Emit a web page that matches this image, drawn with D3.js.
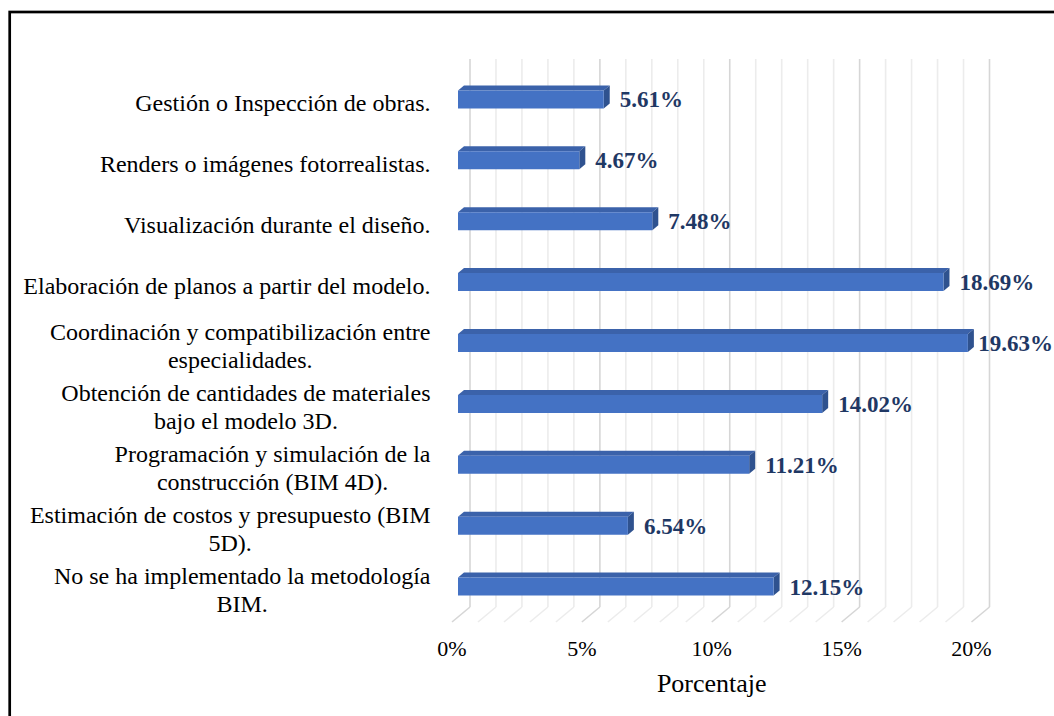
<!DOCTYPE html>
<html>
<head>
<meta charset="utf-8">
<script src="https://cdn.jsdelivr.net/npm/d3@7"></script>
</head>
<body style="margin:0">
<svg id="chart" width="1054" height="716"></svg>
<script>
// Uses of BIM in projects, share of respondents (%)
const categories = [
  "Gestión o Inspección de obras.",
  "Renders o imágenes fotorrealistas.",
  "Visualización durante el diseño.",
  "Elaboración de planos a partir del modelo.",
  "Coordinación y compatibilización entre\nespecialidades.",
  "Obtención de cantidades de materiales\nbajo el modelo 3D.",
  "Programación y simulación de la\nconstrucción (BIM 4D).",
  "Estimación de costos y presupuesto (BIM\n5D).",
  "No se ha implementado la metodología\nBIM."
];
const values = [5.61, 4.67, 7.48, 18.69, 19.63, 14.02, 11.21, 6.54, 12.15];
const tickValues = [0, 5, 10, 15, 20];
const tickLabels = ["0%", "5%", "10%", "15%", "20%"];
const gridValues = d3.range(0, 21, 1);
const axisTitle = "Porcentaje";

const FONT = "'Liberation Serif', 'Times New Roman', monospace";

const svg = d3.select("#chart");
const W = 1054, H = 716;

// outer frame
svg.append("rect")
  .attr("x", 9.7).attr("y", 12)
  .attr("width", W + 40).attr("height", H + 40)
  .attr("fill", "#fff").attr("stroke", "#000").attr("stroke-width", 2.7);

// front plane of the 3D plot box; depth offset goes up and to the right
const plot = { left: 452, right: 971.5, top: 74, bottom: 622 };
const depth = { dx: 18, dy: -15 };

const x = d3.scaleLinear().domain([0, 20]).range([plot.left, plot.right]);
const y = d3.scaleBand().domain(categories).range([plot.top, plot.bottom]);

const P = (v, yy, t) => [x(v) + depth.dx * t, yy + depth.dy * t];

// back wall and floor gridlines
const grid = svg.append("g");
gridValues.forEach(g => {
  const major = g % 5 === 0;
  const col = major ? "#d6d6d6" : "#ececec";
  const [bx, by] = P(g, plot.bottom, 1);
  const [, ty] = P(g, plot.top, 1);
  grid.append("line")
    .attr("x1", bx).attr("x2", bx).attr("y1", ty).attr("y2", by)
    .attr("stroke", col).attr("stroke-width", 1.6);
  grid.append("line")
    .attr("x1", bx).attr("y1", by).attr("x2", x(g)).attr("y2", plot.bottom)
    .attr("stroke", col).attr("stroke-width", 1.6);
});

// 3D bars: front face, top face and right side
const t0 = 1 / 3, t1 = 2 / 3;
const faceH = 18;
const bars = svg.append("g");
categories.forEach((c, i) => {
  const v = values[i];
  const cy = y(c) + y.bandwidth() / 2;
  const yTop = cy - faceH / 2, yBot = cy + faceH / 2;
  const a = P(0, yTop, t0), b = P(v, yTop, t0), bb = P(v, yBot, t0), ab = P(0, yBot, t0);
  const a2 = P(0, yTop, t1), b2 = P(v, yTop, t1), bb2 = P(v, yBot, t1);
  bars.append("polygon")
    .attr("points", [a, b, b2, a2].map(p => p.join(",")).join(" "))
    .attr("fill", "#3B62AA");
  bars.append("polygon")
    .attr("points", [b, b2, bb2, bb].map(p => p.join(",")).join(" "))
    .attr("fill", "#2F528F");
  bars.append("polygon")
    .attr("points", [a, b, bb, ab].map(p => p.join(",")).join(" "))
    .attr("fill", "#4472C4");
});

// value labels
const labels = svg.append("g");
categories.forEach((c, i) => {
  const v = values[i];
  const cy = y(c) + y.bandwidth() / 2;
  const txt = labels.append("text")
    .attr("font-family", FONT)
    .attr("x", x(v) + 22)
    .attr("y", cy + 3)
    .attr("font-size", 23)
    .attr("font-weight", "bold")
    .attr("fill", "#1F3864")
    .text(values[i].toFixed(2) + "%");
  const w = txt.node().getComputedTextLength();
  const maxRight = W - 1;
  if (x(v) + 22 + w > maxRight) txt.attr("x", maxRight - w);
});

// category labels, lines centred within a right-aligned block
const cats = svg.append("g");
const catRight = 430.5, catFs = 24, lineH = 28;
categories.forEach(c => {
  const lines = c.split("\n");
  const cy = y(c) + y.bandwidth() / 2;
  const g = cats.append("g");
  const tx = lines.map((ln, k) => g.append("text")
    .attr("font-family", FONT)
    .attr("font-size", catFs)
    .attr("fill", "#000")
    .attr("text-anchor", "middle")
    .attr("y", cy + 0.35 * catFs - 2 + (k - (lines.length - 1) / 2) * lineH)
    .text(ln));
  const maxW = d3.max(tx, t => t.node().getComputedTextLength());
  tx.forEach(t => t.attr("x", catRight - maxW / 2));
});

// value axis tick labels
svg.append("g").selectAll("text")
  .data(tickValues)
  .join("text")
  .attr("font-family", FONT)
  .attr("x", d => x(d))
  .attr("y", 656)
  .attr("text-anchor", "middle")
  .attr("font-size", 22)
  .attr("fill", "#000")
  .text((d, i) => tickLabels[i]);

// axis title
svg.append("text")
  .attr("font-family", FONT)
  .attr("x", x(10))
  .attr("y", 692)
  .attr("text-anchor", "middle")
  .attr("font-size", 26)
  .attr("fill", "#000")
  .text(axisTitle);
</script>
</body>
</html>
